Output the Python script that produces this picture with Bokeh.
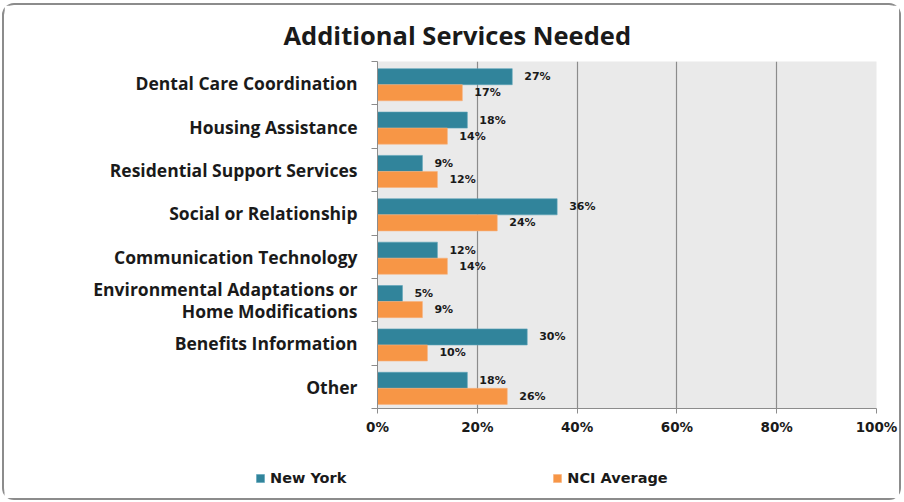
from bokeh.plotting import figure
from bokeh.layouts import column
from bokeh.models import (ColumnDataSource, FixedTicker, PrintfTickFormatter, Legend,
                          LegendItem, Plot)
from bokeh.core.properties import value
from bokeh.embed import file_html
from bokeh.resources import INLINE

categories = ["Dental Care Coordination", "Housing Assistance", "Residential Support Services",
              "Social or Relationship", "Communication Technology",
              "Environmental Adaptations or\nHome Modifications", "Benefits Information", "Other"]
new_york = [27, 18, 9, 36, 12, 5, 30, 18]
nci_average = [17, 14, 12, 24, 14, 9, 10, 26]
x_ticks = [0, 20, 40, 60, 80, 100]
series_names = ["New York", "NCI Average"]

n = len(categories)
centers = [n - 0.5 - i for i in range(n)]
TEAL = "#31849B"
ORANGE = "#F79646"

W = 895
H1, H2 = 451, 42
FL, FW, FT, FH = 373, 499, 55, 348
can_unalign = "frame_align" in Plot.properties()

p = figure(width=W, height=H1, output_backend="svg", toolbar_location=None,
           x_range=(0, 100), y_range=(0, n),
           min_border_left=FL, min_border_right=W - FL - FW,
           min_border_top=FT, min_border_bottom=H1 - FT - FH)
p.border_fill_color = "white"
p.background_fill_color = "#EAEAEA"
p.outline_line_color = None

ny_src = ColumnDataSource(dict(y=[c + 0.15 for c in centers], v=new_york,
                               t=[f"{v}%" for v in new_york]))
nci_src = ColumnDataSource(dict(y=[c - 0.22 for c in centers], v=nci_average,
                                t=[f"{v}%" for v in nci_average]))

bar_kw = [dict(fill_color=TEAL, line_color="#5aa3b8", line_width=0.6),
          dict(fill_color=ORANGE, line_color="#f9b07a", line_width=0.6)]

p.hbar(y="y", right="v", left=0, height=0.37, source=ny_src, **bar_kw[0])
p.hbar(y="y", right="v", left=0, height=0.37, source=nci_src, **bar_kw[1])

for src in (ny_src, nci_src):
    p.text(x="v", y="y", text="t", source=src, x_offset=12,
           text_font_size="11px", text_font_style="bold", text_font=value("DejaVu Sans"),
           text_baseline="middle", text_align="left", text_color="#1a1a1a")

# x axis
p.xaxis.ticker = FixedTicker(ticks=x_ticks)
p.xaxis.formatter = PrintfTickFormatter(format="%d%%")
p.xaxis.major_label_text_font = "DejaVu Sans"
p.xaxis.major_label_text_font_style = "bold"
p.xaxis.major_label_text_font_size = "13.5px"
p.xaxis.major_label_text_color = "#1a1a1a"
p.xaxis.axis_line_color = "#8C8C8C"
p.xaxis.major_tick_line_color = "#8C8C8C"
p.xaxis.major_tick_out = 5
p.xaxis.major_tick_in = 0
p.xaxis.minor_tick_line_color = None
p.xaxis.major_label_standoff = 5

p.xgrid.ticker = FixedTicker(ticks=x_ticks)
p.xgrid.grid_line_color = "#8C8C8C"
p.xgrid.grid_line_width = 1.2
p.ygrid.grid_line_color = None

# y axis
p.yaxis.ticker = FixedTicker(ticks=centers, minor_ticks=list(range(n + 1)))
p.yaxis.major_label_overrides = {c: lab for c, lab in zip(centers, categories)}
p.yaxis.major_tick_line_color = None
p.yaxis.minor_tick_out = 6
p.yaxis.minor_tick_in = 0
p.yaxis.minor_tick_line_color = "#8C8C8C"
p.yaxis.axis_line_color = "#8C8C8C"
p.yaxis.major_label_text_font = "Open Sans"
p.yaxis.major_label_text_font_style = "bold"
p.yaxis.major_label_text_font_size = "17.5px"
p.yaxis.major_label_text_line_height = 0.93
p.yaxis.major_label_text_color = "#1a1a1a"
p.yaxis.major_label_standoff = 14

# title
p.title.text = "Additional Services Needed"
p.title.align = "left"
p.title.offset = -94
p.title.standoff = 20
p.title.text_line_height = 1.0
p.title.text_font = "Open Sans"
p.title.text_font_style = "bold"
p.title.text_font_size = "25.5px"
p.title.text_color = "#1a1a1a"

# legend strip
q = figure(width=W, height=H2, output_backend="svg", toolbar_location=None,
           x_axis_location=None, y_axis_location=None,
           min_border_left=0, min_border_right=0, min_border_top=0, min_border_bottom=0)
if can_unalign:
    p.frame_align = False
    q.frame_align = False
q.outline_line_color = None
q.grid.grid_line_color = None
q.border_fill_color = "white"
q.background_fill_color = "white"
g1 = q.hbar(y="y", right="v", height=0.37, source=ny_src, visible=False, **bar_kw[0])
g2 = q.hbar(y="y", right="v", height=0.37, source=nci_src, visible=False, **bar_kw[1])

legend = Legend(items=[LegendItem(label=series_names[0], renderers=[g1]),
                       LegendItem(label=series_names[1], renderers=[g2])],
                orientation="horizontal", location=(251 if can_unalign else 0, 12),
                spacing=206, padding=0, margin=0, glyph_width=10, glyph_height=10,
                label_standoff=5, label_text_font="DejaVu Sans", label_text_font_style="bold",
                label_text_font_size="14.5px", label_text_color="#1a1a1a",
                background_fill_alpha=0, border_line_color=None, inactive_fill_alpha=0)
q.add_layout(legend, "center")

layout = column(p, q, spacing=0,
                styles={"border": "2px solid #8C8C8C", "border-radius": "12px",
                        "margin-left": "2px", "margin-top": "3px"})

open("out.html", "w").write(file_html(layout, INLINE))
